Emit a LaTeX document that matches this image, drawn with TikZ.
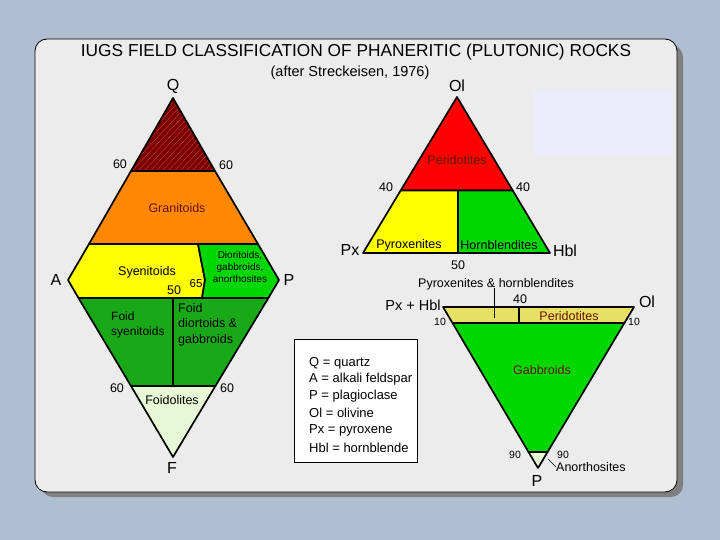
\documentclass[tikz,border=0pt]{standalone}
\usepackage{fontspec}
\setmainfont{Liberation Sans}
\definecolor{bgblue}{RGB}{176,190,210}
\definecolor{cardgray}{RGB}{236,236,236}
\definecolor{shadowgray}{RGB}{128,128,128}
\definecolor{quartzred}{RGB}{120,0,0}
\definecolor{hatchred}{RGB}{215,60,60}
\definecolor{granorange}{RGB}{255,136,0}
\definecolor{syeyellow}{RGB}{255,255,0}
\definecolor{diogreen}{RGB}{0,215,0}
\definecolor{foidgreen}{RGB}{24,168,24}
\definecolor{palegreen}{RGB}{232,248,214}
\definecolor{khaki}{RGB}{232,224,100}
\definecolor{lavender}{RGB}{236,236,250}
\definecolor{darktext}{RGB}{100,20,0}
\begin{document}
\begin{tikzpicture}[x=1pt,y=-1pt,
  lbl/.style={font=\fontsize{12.5}{14}\selectfont, inner sep=0pt},
  tiny/.style={font=\fontsize{10.5}{12}\selectfont, inner sep=0pt},
  apex/.style={font=\fontsize{16}{16}\selectfont, inner sep=0pt},
  field/.style={draw=black, line width=1.7pt, line join=round}]
  \useasboundingbox (0,0) rectangle (720,540);
  %%%%%%%%%%%%%The card%%%%%%%%%%%%%%%%%%%%%%
  \fill[bgblue] (0,0) rectangle (720,540);
  \fill[shadowgray, rounded corners=12] (41,45) rectangle (683,497);
  \draw[fill=cardgray, line width=0.8pt, rounded corners=12] (35,39) rectangle (677,492);
  \fill[lavender] (534,91) rectangle (672,156);

  \node[font=\fontsize{17.3}{18}\selectfont] (title) at (356,52)
    {IUGS FIELD CLASSIFICATION OF PHANERITIC (PLUTONIC) ROCKS};
  \node[font=\fontsize{14.5}{16}\selectfont] (subtitle) at (350,73) {(after Streckeisen, 1976)};

  %%%%%%%%%%%%%The QAPF diamond%%%%%%%%%%%%%%%%%%%%%%
  \fill[quartzred] (173,98) -- (131,171) -- (215,171) -- cycle;
  \begin{scope}
    \clip (173,98) -- (131,171) -- (215,171) -- cycle;
    \foreach \i in {90,96,...,220}
      \draw[hatchred, line width=0.4pt] (\i,171) -- ++(70,-75);
  \end{scope}
  \draw[field] (173,98) -- (131,171) -- (215,171) -- cycle;
  \draw[field, fill=granorange] (131,171) -- (215,171) -- (258,244) -- (89,244) -- cycle;
  \draw[field, fill=syeyellow] (89,244) -- (198,244) -- (205,280) -- (202,298)
    -- (78.5,298) -- (68,280) -- cycle;
  \draw[field, fill=diogreen] (198,244) -- (258,244) -- (279,280) -- (268.4,298)
    -- (202,298) -- (205,280) -- cycle;
  \draw[field, fill=foidgreen] (78.5,298) -- (268.4,298) -- (215.4,386) -- (131,386) -- cycle;
  \draw[field] (173,298) -- (173,386);
  \draw[field, fill=palegreen] (131,386) -- (215.4,386) -- (173,457) -- cycle;

  \node[apex] (lQ) at (173,86) {Q};
  \node[apex] (lA) at (56,280) {A};
  \node[apex] (lP) at (289,280) {P};
  \node[apex] (lF) at (172,468) {F};
  \node[lbl] (q60l) at (120,164) {60};
  \node[lbl] (q60r) at (226,165) {60};
  \node[lbl, text=darktext] (tGran) at (177,208) {Granitoids};
  \node[lbl] (tSye) at (147,272) {Syenitoids};
  \node[lbl, font=\fontsize{11.5}{12}\selectfont] (q65) at (196,284) {65};
  \node[lbl] (q50) at (174,290) {50};
  \node[tiny, align=center, font=\fontsize{10}{12}\selectfont] (tDio) at (240,267)
    {Dioritoids,\\gabbroids,\\anorthosites};
  \node[lbl, align=left, anchor=north west, font=\fontsize{12}{15}\selectfont]
    (tFsye) at (111,312) {Foid\\syenitoids};
  \node[lbl, align=left, anchor=north west, font=\fontsize{12.5}{15.5}\selectfont]
    (tFdio) at (178,303) {Foid\\diortoids \&\\gabbroids};
  \node[lbl] (f60l) at (117,388) {60};
  \node[lbl] (f60r) at (227,388) {60};
  \node[lbl] (tFoid) at (172,400) {Foidolites};

  %%%%%%%%%%%%%The Ol-Px-Hbl triangle%%%%%%%%%%%%%%%%%%%%%%
  \draw[field, fill=red] (457,97) -- (400.6,190.6) -- (512.8,190.6) -- cycle;
  \draw[field, fill=syeyellow] (400.6,190.6) -- (458,190.6) -- (458,253) -- (363,253) -- cycle;
  \draw[field, fill=diogreen] (458,190.6) -- (512.8,190.6) -- (550,253) -- (458,253) -- cycle;

  \node[apex] (lOl) at (457,86) {Ol};
  \node[apex] (lPx) at (350,250) {Px};
  \node[apex] (lHbl) at (565,251) {Hbl};
  \node[lbl] (o40l) at (386,187) {40};
  \node[lbl] (o40r) at (523,187) {40};
  \node[lbl] (o50) at (458,265) {50};
  \node[lbl, text=darktext] (tPer) at (457,160) {Peridotites};
  \node[lbl] (tPyr) at (409,245) {Pyroxenites};
  \node[lbl] (tHbl) at (499,245) {Hornblendites};

  %%%%%%%%%%%%%The gabbroic triangle%%%%%%%%%%%%%%%%%%%%%%
  \draw[field, fill=khaki] (443,307) -- (634,307) -- (624.4,323) -- (452.5,323) -- cycle;
  \draw[field] (519,307) -- (519,323);
  \draw[field, fill=diogreen] (452.5,323) -- (624.4,323) -- (547.6,452) -- (528.5,452) -- cycle;
  \draw[field, fill=palegreen] (528.5,452) -- (547.6,452) -- (538,468) -- cycle;

  \node[lbl] (tPxHb) at (496,284) {Pyroxenites \& hornblendites};
  \coordinate (pxhbEnd) at (494,318);
  \draw[line width=0.8pt] (tPxHb.south -| pxhbEnd) ++(0,-2) -- (pxhbEnd);
  \node[font=\fontsize{14.5}{15}\selectfont, inner sep=0pt] (lPxHbl) at (413,305) {Px + Hbl};
  \node[apex] (lOl2) at (647,302) {Ol};
  \node[lbl] (g40) at (520,299) {40};
  \node[tiny] (g10l) at (440,322) {10};
  \node[tiny] (g10r) at (634,322) {10};
  \node[lbl, text=darktext] (tPer2) at (569,316) {Peridotites};
  \node[lbl, text=darktext] (tGab) at (542,370) {Gabbroids};
  \node[tiny] (g90l) at (515,455) {90};
  \node[tiny] (g90r) at (563,455) {90};
  \node[lbl, anchor=west] (tAnor) at (556,467) {Anorthosites};
  \coordinate (anorEnd) at (548,459);
  \draw[line width=0.5pt] (anorEnd) -- (tAnor.west);
  \node[apex] (lP2) at (537,481) {P};

  %%%%%%%%%%%%%The legend%%%%%%%%%%%%%%%%%%%%%%
  \draw[fill=white, line width=0.8pt] (294,339) rectangle (417,462);
  \foreach \y/\txt [count=\k] in {363/{Q = quartz}, 379/{A = alkali feldspar},
      396/{P = plagioclase}, 413/{Ol = olivine}, 430/{Px = pyroxene},
      448/{Hbl = hornblende}}
    \node[font=\fontsize{13}{14}\selectfont, inner sep=0pt, anchor=west] (key\k) at (309,\y) {\txt};
\end{tikzpicture}
\end{document}
